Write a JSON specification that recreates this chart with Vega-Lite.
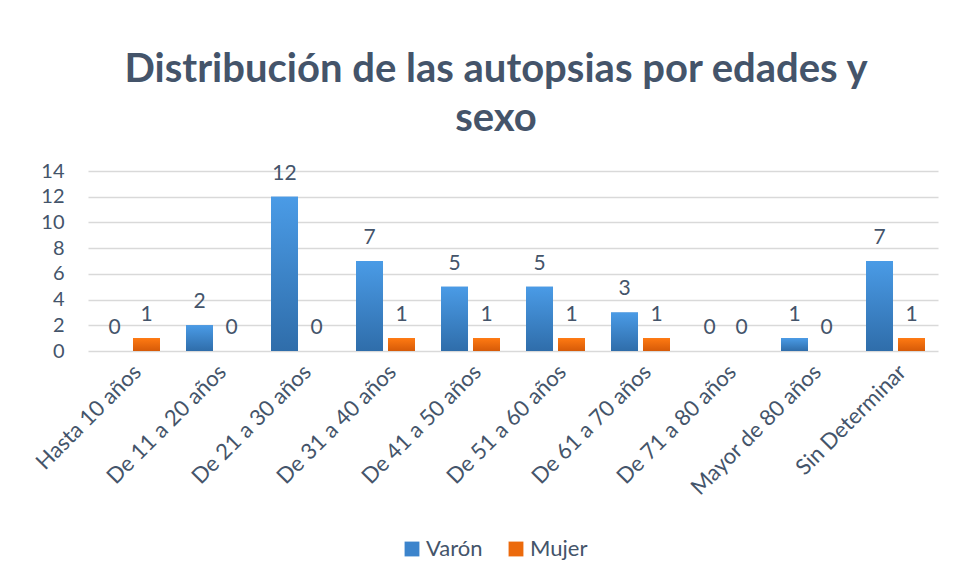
{
  "$schema": "https://vega.github.io/schema/vega-lite/v6.json",
  "width": 850,
  "height": 180,
  "autosize": "none",
  "padding": {"left": 88, "top": 171, "right": 18, "bottom": 228},
  "background": "white",
  "config": {
    "font": "Lato",
    "view": {"stroke": null}
  },
  "title": {
    "text": ["Distribución de las autopsias por edades y", "sexo"],
    "fontSize": 40,
    "fontWeight": "bold",
    "color": "#44546A",
    "font": "Lato",
    "anchor": "middle",
    "frame": "group",
    "dx": -17,
    "offset": 22,
    "lineHeight": 49
  },
  "data": {
    "values": [
      {"edad": "Hasta 10 años", "sexo": "Varón", "n": 0},
      {"edad": "Hasta 10 años", "sexo": "Mujer", "n": 1},
      {"edad": "De 11 a 20 años", "sexo": "Varón", "n": 2},
      {"edad": "De 11 a 20 años", "sexo": "Mujer", "n": 0},
      {"edad": "De 21 a 30 años", "sexo": "Varón", "n": 12},
      {"edad": "De 21 a 30 años", "sexo": "Mujer", "n": 0},
      {"edad": "De 31 a 40 años", "sexo": "Varón", "n": 7},
      {"edad": "De 31 a 40 años", "sexo": "Mujer", "n": 1},
      {"edad": "De 41 a 50 años", "sexo": "Varón", "n": 5},
      {"edad": "De 41 a 50 años", "sexo": "Mujer", "n": 1},
      {"edad": "De 51 a 60 años", "sexo": "Varón", "n": 5},
      {"edad": "De 51 a 60 años", "sexo": "Mujer", "n": 1},
      {"edad": "De 61 a 70 años", "sexo": "Varón", "n": 3},
      {"edad": "De 61 a 70 años", "sexo": "Mujer", "n": 1},
      {"edad": "De 71 a 80 años", "sexo": "Varón", "n": 0},
      {"edad": "De 71 a 80 años", "sexo": "Mujer", "n": 0},
      {"edad": "Mayor de 80 años", "sexo": "Varón", "n": 1},
      {"edad": "Mayor de 80 años", "sexo": "Mujer", "n": 0},
      {"edad": "Sin Determinar", "sexo": "Varón", "n": 7},
      {"edad": "Sin Determinar", "sexo": "Mujer", "n": 1}
    ]
  },
  "encoding": {
    "x": {
      "field": "edad",
      "type": "nominal",
      "sort": null,
      "scale": {"paddingInner": 0.306, "paddingOuter": 0.153},
      "axis": {
        "title": null,
        "labelAngle": -45,
        "labelFontSize": 22,
        "labelColor": "#44546A",
        "labelPadding": 10,
        "domain": false,
        "ticks": false,
        "grid": false
      }
    },
    "xOffset": {
      "field": "sexo",
      "type": "nominal",
      "sort": ["Varón", "Mujer"],
      "scale": {"paddingInner": 0.156, "paddingOuter": 0}
    },
    "y": {
      "field": "n",
      "type": "quantitative",
      "scale": {"domain": [0, 14], "nice": false},
      "axis": {
        "title": null,
        "values": [0, 2, 4, 6, 8, 10, 12, 14],
        "labelFontSize": 20,
        "labelColor": "#44546A",
        "labelPadding": 24,
        "domain": false,
        "ticks": false,
        "gridColor": "#D9D9D9",
        "gridWidth": 1.5
      }
    }
  },
  "layer": [
    {
      "mark": {"type": "bar"},
      "encoding": {
        "color": {
          "field": "sexo",
          "type": "nominal",
          "sort": ["Varón", "Mujer"],
          "scale": {"domain": ["Varón", "Mujer"], "range": ["#3C84CC", "#EC6A0C"]},
          "legend": {
            "title": null,
            "orient": "none",
            "direction": "horizontal",
            "legendX": 313,
            "legendY": 367,
            "symbolType": "square",
            "symbolSize": 220,
            "symbolStrokeWidth": 0,
            "labelFontSize": 22,
            "labelColor": "#44546A",
            "columnPadding": 22,
            "labelOffset": 3
          }
        }
      }
    },
    {
      "transform": [{"filter": "datum.sexo === 'Varón'"}],
      "mark": {
        "type": "bar",
        "color": {
          "gradient": "linear", "x1": 0, "y1": 0, "x2": 0, "y2": 1,
          "stops": [{"offset": 0, "color": "#4A9BE6"}, {"offset": 1, "color": "#2F6DAA"}]
        }
      }
    },
    {
      "transform": [{"filter": "datum.sexo === 'Mujer'"}],
      "mark": {
        "type": "bar",
        "color": {
          "gradient": "linear", "x1": 0, "y1": 0, "x2": 0, "y2": 1,
          "stops": [{"offset": 0, "color": "#FF7A12"}, {"offset": 1, "color": "#D65A08"}]
        }
      }
    },
    {
      "mark": {"type": "text", "fontSize": 21, "color": "#44546A", "baseline": "alphabetic", "dy": -17},
      "encoding": {"text": {"field": "n", "type": "quantitative"}}
    }
  ]
}
